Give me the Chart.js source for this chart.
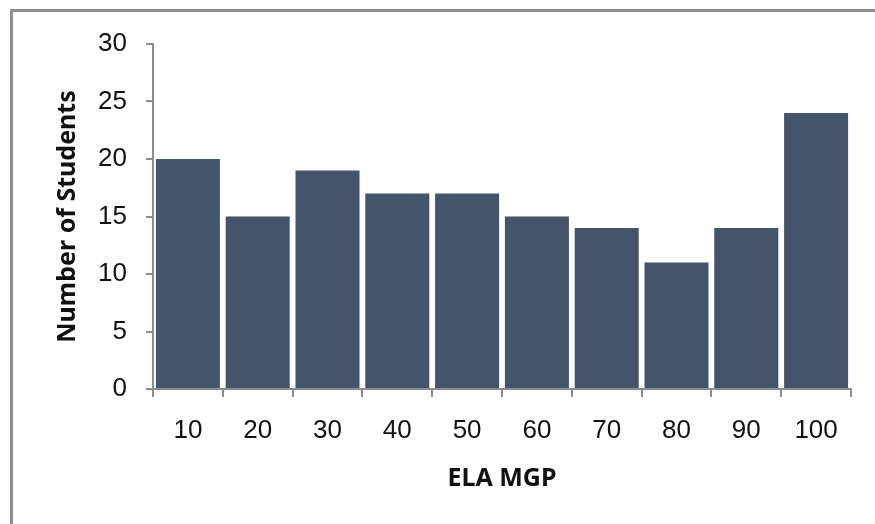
<!DOCTYPE html>
<html>
<head>
<meta charset="utf-8">
<script src="https://cdn.jsdelivr.net/npm/chart.js@4.4.1/dist/chart.umd.min.js"></script>
<style>
  html, body { margin: 0; padding: 0; background: #fff; overflow: hidden; }
  body { width: 875px; height: 524px; position: relative; }
  #frame {
    position: absolute; left: 10px; top: 9px;
    width: 2000px; height: 2000px;
    border: 3px solid #8f8f8f; box-sizing: border-box;
  }
  #chart { position: absolute; left: 0; top: 0; }
</style>
</head>
<body>
<div id="frame"></div>
<canvas id="chart" width="875" height="524"></canvas>
<script>
// ELA median growth percentile buckets and student counts
const categories = ['10', '20', '30', '40', '50', '60', '70', '80', '90', '100'];
const studentCounts = [20, 15, 19, 17, 17, 15, 14, 11, 14, 24];
const yTicks = [0, 5, 10, 15, 20, 25, 30];

const axisGray = '#8c8c8c';
const tickFont = { family: '"Liberation Sans", Arial, sans-serif', size: 26 };
const titleFont = { family: '"Noto Sans", "Open Sans", sans-serif', size: 25, weight: 'bold' };

new Chart(document.getElementById('chart'), {
  type: 'bar',
  data: {
    labels: categories,
    datasets: [{
      data: studentCounts,
      backgroundColor: '#44546A',
      borderWidth: 0,
      barPercentage: 0.917,
      categoryPercentage: 1.0
    }]
  },
  options: {
    responsive: false,
    animation: false,
    layout: { padding: { left: 0, right: 24, top: 44, bottom: 0 } },
    plugins: { legend: { display: false }, tooltip: { enabled: false } },
    scales: {
      x: {
        grid: { display: true, drawOnChartArea: false, offset: true, color: axisGray, lineWidth: 2, tickLength: 8 },
        border: { display: true, color: axisGray, width: 2 },
        ticks: { color: '#111', font: tickFont, padding: 18, maxRotation: 0 },
        title: { display: true, text: 'ELA MGP', color: '#111', font: titleFont, padding: { top: 0, bottom: 30 } },
        afterFit: (s) => { s.height = 135; }
      },
      y: {
        min: 0, max: 30,
        afterBuildTicks: (s) => { s.ticks = yTicks.map(v => ({ value: v })); },
        grid: { display: true, drawOnChartArea: false, color: axisGray, lineWidth: 2, tickLength: 7 },
        border: { display: true, color: axisGray, width: 2 },
        ticks: { color: '#111', font: tickFont, padding: 19 },
        title: { display: true, text: 'Number of Students', color: '#111', font: titleFont, padding: { top: 53, bottom: 0 } },
        afterFit: (s) => { s.width = 153; }
      }
    }
  }
});
</script>
</body>
</html>
